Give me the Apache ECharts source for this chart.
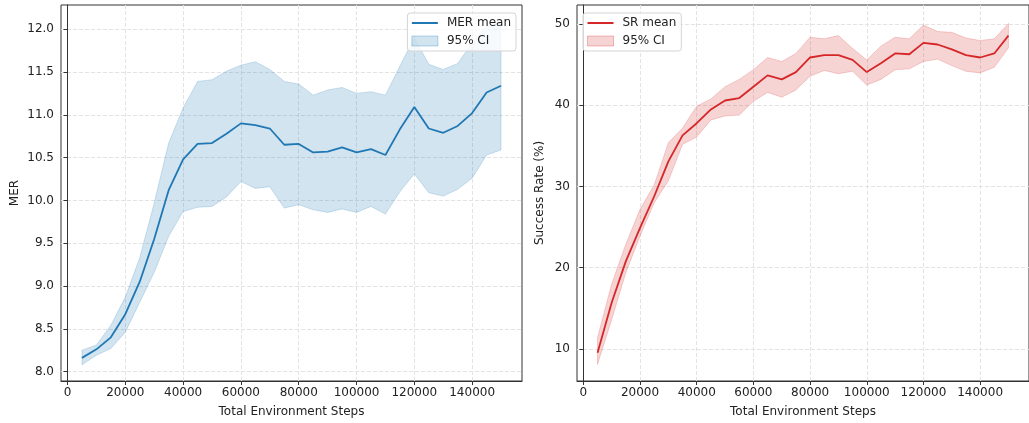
<!DOCTYPE html>
<html>
<head>
<meta charset="utf-8">
<script src="https://cdn.jsdelivr.net/npm/echarts@6/dist/echarts.min.js"></script>
<style>html,body{margin:0;padding:0;background:#fff}#c{width:1029px;height:423px}</style>
</head>
<body>
<div id="c"></div>
<script>
const steps = [5000,10000,15000,20000,25000,30000,35000,40000,45000,50000,55000,60000,65000,70000,75000,80000,85000,90000,95000,100000,105000,110000,115000,120000,125000,130000,135000,140000,145000,150000];
const merMean  = [8.16,8.26,8.40,8.67,9.05,9.55,10.12,10.48,10.66,10.67,10.78,10.90,10.88,10.84,10.65,10.66,10.56,10.57,10.62,10.56,10.60,10.53,10.83,11.09,10.84,10.79,10.87,11.02,11.26,11.34];
const merUpper = [8.25,8.31,8.54,8.87,9.33,9.97,10.67,11.08,11.39,11.41,11.51,11.58,11.62,11.53,11.39,11.36,11.23,11.29,11.32,11.25,11.27,11.23,11.57,11.90,11.59,11.53,11.60,11.84,12.03,12.08];
const merLower = [8.08,8.19,8.27,8.46,8.81,9.16,9.58,9.87,9.92,9.93,10.04,10.22,10.14,10.16,9.91,9.95,9.89,9.86,9.90,9.86,9.93,9.84,10.10,10.31,10.09,10.05,10.13,10.26,10.53,10.59];
const srMean  = [9.5,15.7,20.8,24.9,28.8,33.1,36.3,37.8,39.5,40.6,40.9,42.3,43.7,43.2,44.1,45.9,46.2,46.2,45.6,44.1,45.2,46.4,46.3,47.7,47.5,46.9,46.2,45.9,46.4,48.6];
const srUpper = [11.4,18.0,22.9,27.2,30.2,35.4,37.2,39.9,40.8,42.3,43.2,44.4,45.9,45.4,46.4,48.4,48.2,48.6,47.0,45.6,47.3,48.4,48.2,49.9,49.1,49.0,48.3,48.0,48.2,50.1];
const srLower = [8.1,13.6,19.4,23.9,28.0,30.7,35.2,36.1,38.2,38.7,38.8,40.5,41.6,41.0,41.9,43.6,44.3,43.9,44.2,42.5,43.2,44.4,44.5,45.4,45.7,44.9,44.2,44.0,44.7,47.1];
const xTicks = [0,20000,40000,60000,80000,100000,120000,140000];
const merTicks = [8.0,8.5,9.0,9.5,10.0,10.5,11.0,11.5,12.0];
const srTicks = [10,20,30,40,50];

const FONT = 'DejaVu Sans';
const BLUE = '#1f77b4', RED = '#d62728';
const BLUE_A = 'rgba(31,119,180,0.2)', RED_A = 'rgba(214,39,40,0.2)';
const LINE_ICON = 'path://M0,0 L26,0 L26,2 L0,2 Z';

function pairs(ys){ return steps.map((s,i)=>[s, ys[i]]); }

function xAxisCfg(idx){
  return {
    type:'value', gridIndex:idx, min:-2250, max:157250,
    name:'Total Environment Steps', nameLocation:'middle', nameGap:25,
    nameTextStyle:{fontFamily:FONT, fontSize:12, color:'#222'},
    axisLine:{show:true, lineStyle:{color:'#333', width:1}},
    axisTick:{show:true, length:4, lineStyle:{color:'#333'}, customValues:xTicks},
    axisLabel:{fontFamily:FONT, fontSize:12, color:'#222', margin:6, customValues:xTicks, formatter:v=>String(v)},
    splitLine:{show:true, lineStyle:{color:'#e3e3e3', type:[4,2], width:1}}
  };
}
function yAxisCfg(idx, min, max, ticks, name, gap, fmt){
  return {
    type:'value', gridIndex:idx, min:min, max:max,
    name:name, nameLocation:'middle', nameGap:gap,
    nameTextStyle:{fontFamily:FONT, fontSize:12, color:'#222'},
    axisLine:{show:true, lineStyle:{color:'#333', width:1}},
    axisTick:{show:true, length:4, lineStyle:{color:'#333'}, customValues:ticks},
    axisLabel:{fontFamily:FONT, fontSize:12, color:'#222', margin:7, customValues:ticks, formatter:fmt},
    splitLine:{show:true, lineStyle:{color:'#e3e3e3', type:[4,2], width:1}}
  };
}
function legendCfg(pos, meanName, ciName, color, fill, edge){
  return Object.assign({
    orient:'vertical', top:13, itemWidth:26, itemHeight:10, itemGap:6,
    padding:[4,5,4,4], backgroundColor:'rgba(255,255,255,0.8)',
    borderColor:'#d4d4d4', borderWidth:1, borderRadius:3,
    textStyle:{fontFamily:FONT, fontSize:12, color:'#222', lineHeight:12, padding:[0,0,0,4]},
    data:[
      {name:meanName, icon:LINE_ICON, itemStyle:{color:color, borderWidth:0}},
      {name:ciName, icon:'rect', itemStyle:{color:fill, borderColor:edge, borderWidth:1}}
    ],
    formatter: n => n.trim(),
    z:10
  }, pos);
}
function band(name, xi, yi, up, lo, fill){
  return {
    type:'custom', name:name, xAxisIndex:xi, yAxisIndex:yi, silent:true, z:1,
    itemStyle:{color:fill},
    data: pairs(up),
    renderItem: function(params, api){
      if (params.dataIndex !== 0) return null;
      const top = steps.map((s,i)=>api.coord([s, up[i]]));
      const bot = steps.map((s,i)=>api.coord([s, lo[i]])).reverse();
      return {
        type:'polygon',
        shape:{points: top.concat(bot)},
        style:{fill:fill, stroke:fill, lineWidth:1}
      };
    }
  };
}

const chart = echarts.init(document.getElementById('c'), null, {renderer:'canvas'});
chart.setOption({
  animation:false,
  backgroundColor:'#fff',
  grid:[
    {left:61, top:5, width:461, height:377, show:true, borderColor:'#333', borderWidth:1, backgroundColor:'transparent', containLabel:false},
    {left:577, top:5, width:461, height:377, show:true, borderColor:'#333', borderWidth:1, backgroundColor:'transparent', containLabel:false}
  ],
  xAxis:[xAxisCfg(0), xAxisCfg(1)],
  yAxis:[
    yAxisCfg(0, 7.89, 12.283, merTicks, 'MER', 40, v=>v.toFixed(1)),
    yAxisCfg(1, 6.03, 52.37, srTicks, 'Success Rate (%)', 31, v=>String(v))
  ],
  legend:[
    legendCfg({right:513}, 'MER mean', '95% CI ', BLUE, BLUE_A, 'rgba(31,119,180,0.3)'),
    legendCfg({left:583}, 'SR mean', '95% CI', RED, RED_A, 'rgba(214,39,40,0.3)')
  ],
  series:[
    band('95% CI ', 0, 0, merUpper, merLower, BLUE_A),
    {type:'line', name:'MER mean', xAxisIndex:0, yAxisIndex:0, data:pairs(merMean), symbol:'none',
     lineStyle:{width:1.8, color:BLUE}, itemStyle:{color:BLUE}, z:3},
    band('95% CI', 1, 1, srUpper, srLower, RED_A),
    {type:'line', name:'SR mean', xAxisIndex:1, yAxisIndex:1, data:pairs(srMean), symbol:'none',
     lineStyle:{width:1.8, color:RED}, itemStyle:{color:RED}, z:3}
  ]
});
</script>
</body>
</html>
